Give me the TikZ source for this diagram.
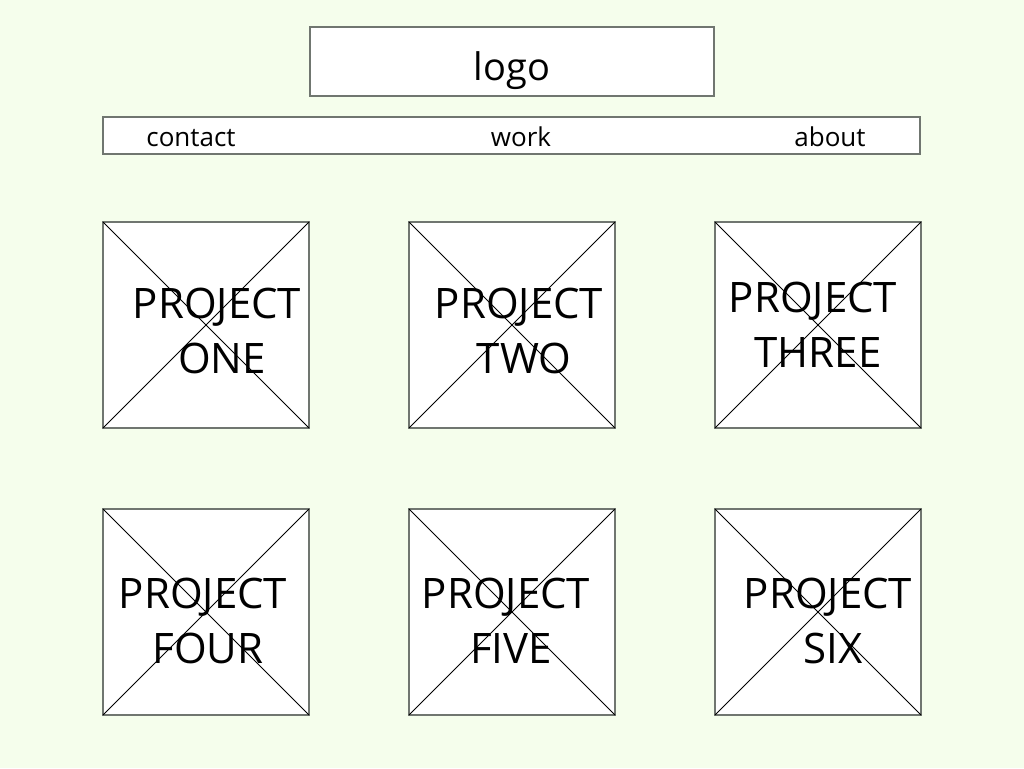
\documentclass[tikz,border=0pt]{standalone}
\usepackage{fontspec}
\setmainfont{Open Sans}
\definecolor{pagebg}{RGB}{245,254,236}
\definecolor{frame}{RGB}{112,118,112}
\begin{document}
\begin{tikzpicture}[x=1pt,y=-1pt,line width=1.1pt,
    box/.style={draw=frame,fill=white,inner sep=0pt,outer sep=0pt},
    thumb/.style={box,minimum width=206pt,minimum height=206pt},
    cross/.style={black,line width=0.8pt},
    navtext/.style={anchor=base,font=\fontsize{26}{30}\selectfont},
    label/.style={align=center,font=\fontsize{42}{55}\selectfont}]
    \fill[pagebg](0,0)rectangle(1024,768);
    \useasboundingbox(0,0)rectangle(1024,768);
    % header
    \node[box,minimum width=404pt,minimum height=69pt](logo)at(512,61.5){};
    \node[anchor=base,font=\fontsize{38}{44}\selectfont](logotext)at(512,80){logo};
    \node[box,minimum width=817pt,minimum height=37pt](nav)at(511.5,135.5){};
    \node[navtext](contact)at(191,146){contact};
    \node[navtext](work)at(521,146){work};
    \node[navtext](about)at(830,146){about};
    % project thumbnails
    \foreach \name/\cx/\cy in {one/206/325,two/512/325,three/818/325,four/206/612,five/512/612,six/818/612}{
        \node[thumb](\name)at(\cx,\cy){};
        \draw[cross](\name.north west)--(\name.south east);
        \draw[cross](\name.north east)--(\name.south west);
    }
    \node[label](lone)at(217,331){PROJECT\\\hspace*{10pt}ONE};
    \node[label](ltwo)at(519,331){PROJECT\\\hspace*{10pt}TWO};
    \node[label](lthree)at(813,325){PROJECT\\\hspace*{10pt}THREE};
    \node[label](lfour)at(203,621){PROJECT\\\hspace*{10pt}FOUR};
    \node[label](lfive)at(506,621){PROJECT\\\hspace*{10pt}FIVE};
    \node[label](lsix)at(828,621){PROJECT\\\hspace*{10pt}SIX};
\end{tikzpicture}
\end{document}
